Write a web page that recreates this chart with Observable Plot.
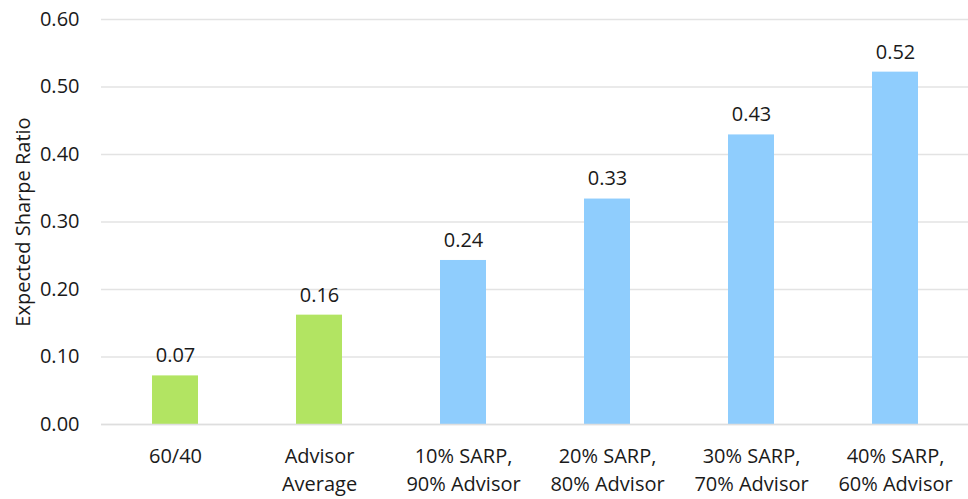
<!DOCTYPE html>
<html>
<head>
<meta charset="utf-8">
<script src="https://cdn.jsdelivr.net/npm/d3@7"></script>
<script src="https://cdn.jsdelivr.net/npm/@observablehq/plot@0.6"></script>
<style>
  html, body { margin: 0; padding: 0; background: #fff; }
  #chart svg { display: block; }
</style>
</head>
<body>
<div id="chart"></div>
<script>
const categories = ["60/40", "Advisor\nAverage", "10% SARP,\n90% Advisor", "20% SARP,\n80% Advisor", "30% SARP,\n70% Advisor", "40% SARP,\n60% Advisor"];
const values = [0.072, 0.162, 0.243, 0.334, 0.429, 0.522];
const valueLabels = ["0.07", "0.16", "0.24", "0.33", "0.43", "0.52"];
const groups = ["base", "base", "sarp", "sarp", "sarp", "sarp"];
const yTicks = [0, 0.1, 0.2, 0.3, 0.4, 0.5, 0.6];
const yTitle = "Expected Sharpe Ratio";

const data = categories.map((c, i) => ({cat: c, value: values[i], label: valueLabels[i], group: groups[i]}));

const font = "'Open Sans', 'Noto Sans', sans-serif";

const chart = Plot.plot({
  width: 968,
  height: 499,
  marginLeft: 101,
  marginRight: 0,
  marginTop: 19,
  marginBottom: 75,
  style: {fontFamily: font, fontSize: "20px", color: "#1a1a1a", background: "#fff"},
  x: {domain: categories, paddingInner: 0.683, paddingOuter: 0.3415, label: null},
  y: {domain: [0, 0.6], label: null},
  color: {domain: ["base", "sarp"], range: ["#b2e462", "#8fcdfd"]},
  marks: [
    Plot.gridY(yTicks, {stroke: "#e3e3e3", strokeOpacity: 1, strokeWidth: 1.5}),
    Plot.axisY({ticks: yTicks, tickSize: 0, tickPadding: 22, tickFormat: d3.format(".2f"), fontSize: "20px", label: null}),
    Plot.axisY({ticks: [], tickSize: 0, fontSize: "20px", label: yTitle, labelAnchor: "center", labelArrow: "none", labelOffset: 86}),
    Plot.barY(data, {x: "cat", y: "value", fill: "group"}),
    Plot.text(data, {x: "cat", y: "value", text: "label", dy: -20, fontSize: "20px", fill: "#1a1a1a"}),
    Plot.axisX({tickSize: 0, tickPadding: 19, fontSize: "20px", lineHeight: 1.4, label: null}),
    Plot.ruleY([0], {stroke: "#dedede", strokeWidth: 1.5})
  ]
});
document.getElementById("chart").appendChild(chart);
</script>
</body>
</html>
